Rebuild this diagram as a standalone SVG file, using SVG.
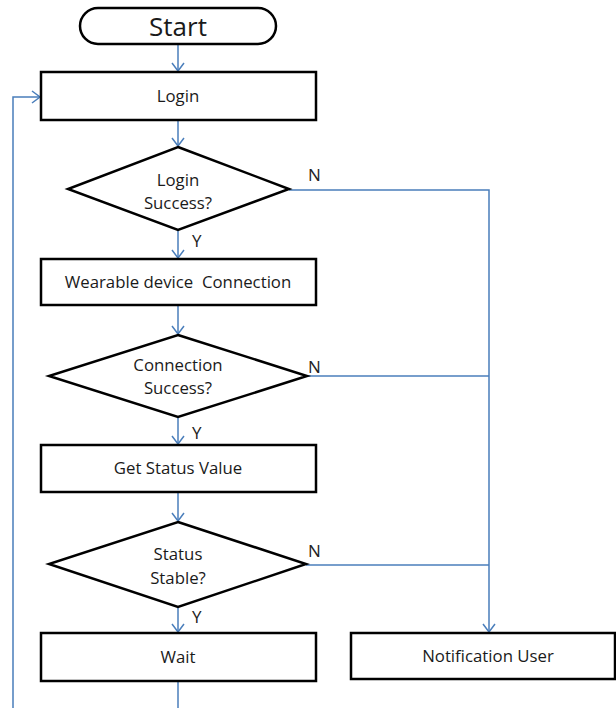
<svg xmlns="http://www.w3.org/2000/svg" width="616" height="708" viewBox="0 0 616 708">
<defs>
<marker id="arr" markerWidth="14" markerHeight="14" refX="10" refY="7" orient="auto" markerUnits="userSpaceOnUse">
<path d="M2,1 L10,7 L2,13" fill="none" stroke="#4a7ebb" stroke-width="1.5"/>
</marker>
</defs>
<style>
.shape{fill:#fff;stroke:#000;stroke-width:2.5}
.t{font-family:"Open Sans","Noto Sans",sans-serif;font-size:16.8px;fill:#1a1a1a;text-anchor:middle}
.lbl{font-family:"Open Sans","Noto Sans",sans-serif;font-size:17px;fill:#222}
.c{fill:none;stroke:#4a7ebb;stroke-width:1.5}
</style>
<rect width="616" height="708" fill="#fff"/>
<g id="connectors">
<line class="c" x1="178" y1="44" x2="178" y2="71" marker-end="url(#arr)"/>
<line class="c" x1="178" y1="120" x2="178" y2="146" marker-end="url(#arr)"/>
<line class="c" x1="178" y1="230" x2="178" y2="258" marker-end="url(#arr)"/>
<line class="c" x1="178" y1="305" x2="178" y2="334" marker-end="url(#arr)"/>
<line class="c" x1="178" y1="417" x2="178" y2="444" marker-end="url(#arr)"/>
<line class="c" x1="178" y1="492" x2="178" y2="521" marker-end="url(#arr)"/>
<line class="c" x1="178" y1="607" x2="178" y2="632" marker-end="url(#arr)"/>
<line class="c" x1="178" y1="681" x2="178" y2="708"/>
<polyline class="c" points="13,708 13,97 40,97" marker-end="url(#arr)"/>
<polyline class="c" points="289,190 489,190 489,632" marker-end="url(#arr)"/>
<line class="c" x1="307" y1="376" x2="489" y2="376"/>
<line class="c" x1="306" y1="565" x2="489" y2="565"/>
<text class="lbl" x="308" y="181">N</text>
<text class="lbl" x="308" y="373">N</text>
<text class="lbl" x="308" y="557">N</text>
<text class="lbl" x="192" y="247">Y</text>
<text class="lbl" x="192" y="439">Y</text>
<text class="lbl" x="192" y="623">Y</text>
</g>
<g id="start">
<rect class="shape" x="80" y="8" width="196" height="36" rx="18" ry="18"/>
<text class="t" x="178" y="36" style="font-size:26px">Start</text>
</g>
<g id="login">
<rect class="shape" x="41" y="72" width="275" height="48"/>
<text class="t" x="178" y="102">Login</text>
</g>
<g id="login-success">
<polygon class="shape" points="178,147 289,189 178,230 68,189"/>
<text class="t" x="178" y="186">Login</text>
<text class="t" x="178" y="209">Success?</text>
</g>
<g id="wearable">
<rect class="shape" x="41" y="259" width="275" height="46"/>
<text class="t" x="178" y="288" xml:space="preserve">Wearable device  Connection</text>
</g>
<g id="connection-success">
<polygon class="shape" points="178,335 307,376 178,417 49,376"/>
<text class="t" x="178" y="371">Connection</text>
<text class="t" x="178" y="394">Success?</text>
</g>
<g id="get-status">
<rect class="shape" x="41" y="445" width="275" height="47"/>
<text class="t" x="178" y="474">Get Status Value</text>
</g>
<g id="status-stable">
<polygon class="shape" points="178,522 306,564 178,607 49,564"/>
<text class="t" x="178" y="560">Status</text>
<text class="t" x="178" y="584">Stable?</text>
</g>
<g id="wait">
<rect class="shape" x="41" y="633" width="275" height="48"/>
<text class="t" x="178" y="663">Wait</text>
</g>
<g id="notification">
<rect class="shape" x="351" y="633" width="264" height="46"/>
<text class="t" x="488" y="662">Notification User</text>
</g>
</svg>
